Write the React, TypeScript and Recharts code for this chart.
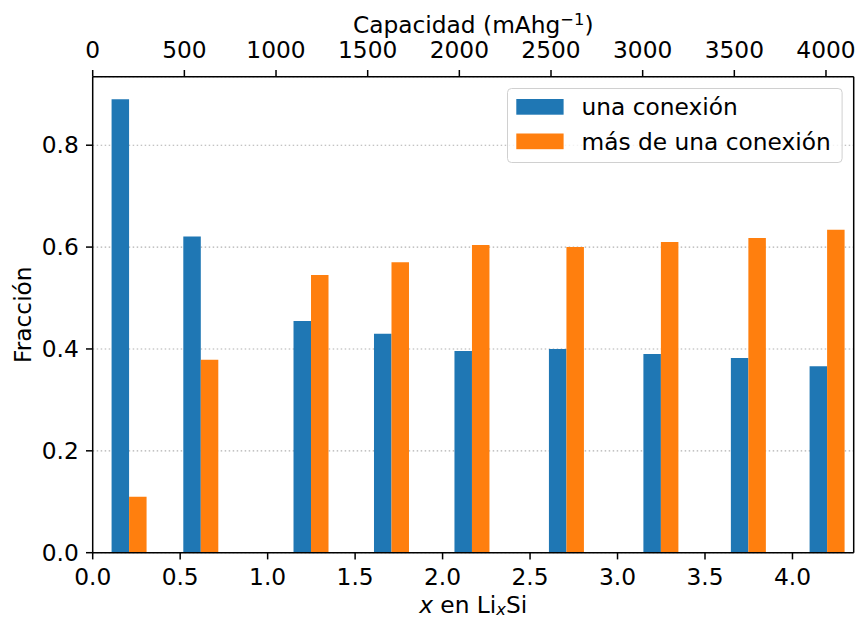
import React from 'react';
import {
  ComposedChart,
  Bar,
  XAxis,
  YAxis,
  CartesianGrid,
  Legend,
  ReferenceLine,
  Customized,
} from 'recharts';

// Li content x in LixSi for each sampled composition
const X_VALUES = [0.21, 0.62, 1.25, 1.71, 2.17, 2.71, 3.25, 3.75, 4.2];
// Fraction of Si atoms with a single connection
const SINGLE = [0.89, 0.621, 0.455, 0.43, 0.396, 0.4, 0.39, 0.382, 0.366];
// Fraction of Si atoms with more than one connection
const MULTI = [0.11, 0.379, 0.545, 0.57, 0.604, 0.6, 0.61, 0.618, 0.634];

const SERIES_NAMES = ['una conexión', 'más de una conexión'];
const COLORS = ['#1f77b4', '#ff7f0e'];

const X_TICKS = [0, 0.5, 1, 1.5, 2, 2.5, 3, 3.5, 4];
const CAP_TICKS = [0, 500, 1000, 1500, 2000, 2500, 3000, 3500, 4000];
const Y_TICKS = [0, 0.2, 0.4, 0.6, 0.8];

const X_MAX = 4.35;
const Y_MAX = 0.9345;
// Theoretical specific capacity per Li per Si (mAh/g)
const MAH_PER_X = 954.3;

const data = X_VALUES.map((x, i) => ({
  x,
  cap: x * MAH_PER_X,
  single: SINGLE[i],
  multi: MULTI[i],
}));

const FONT = 'DejaVu Sans';
const TICK_FS = 23.3;
const LABEL_FS = 23.3;
const LINE_W = 1.5;

const tickStyle = { fill: '#000', fontSize: TICK_FS, fontFamily: FONT };
const lineStyle = { stroke: '#000', strokeWidth: LINE_W };

const LegendBox = () => (
  <svg width={336} height={76} style={{ display: 'block', overflow: 'visible' }}>
    <rect
      x={0.5}
      y={0.5}
      width={334.6}
      height={74}
      rx={4}
      fill="rgba(255,255,255,0.8)"
      stroke="#d0d0d0"
      strokeWidth={1}
    />
    {SERIES_NAMES.map((name, i) => (
      <g key={name}>
        <rect x={9.3} y={11 + i * 34.5} width={47.3} height={15.7} fill={COLORS[i]} />
        <text
          x={74.5}
          y={27.4 + i * 34.4}
          fontFamily={FONT}
          fontSize={TICK_FS}
          fill="#000"
        >
          {name}
        </text>
      </g>
    ))}
  </svg>
);

const AxisTitles = () => (
  <g fontFamily={FONT} fontSize={LABEL_FS} fill="#000">
    <text x={473.2} y={33.3} textAnchor="middle">
      Capacidad (mAhg
      <tspan fontSize={LABEL_FS * 0.7} dy={-8.3}>
        −1
      </tspan>
      <tspan dy={8.3}>)</tspan>
    </text>
    <text x={473.2} y={612.5} textAnchor="middle">
      <tspan fontStyle="italic">x</tspan> en Li
      <tspan fontStyle="italic" fontSize={LABEL_FS * 0.7} dy={2}>
        x
      </tspan>
      <tspan dy={-2}>Si</tspan>
    </text>
    <text transform="translate(30.5,314.7) rotate(-90)" textAnchor="middle">
      Fracción
    </text>
  </g>
);

export default function App() {
  return (
    <div
      style={{
        position: 'absolute',
        left: 0,
        top: 0,
        width: 857,
        height: 617,
        background: '#fff',
      }}
    >
      <ComposedChart
        width={857}
        height={617}
        data={data}
        margin={{ top: 0, right: 3.3, bottom: 0, left: 0 }}
        barGap={0}
      >
        <CartesianGrid
          xAxisId="x"
          yAxisId="y"
          vertical={false}
          stroke="#b0b0b0"
          strokeWidth={1.1}
          strokeDasharray="1.5 2.5"
        />
        <Bar
          xAxisId="x"
          yAxisId="y"
          dataKey="single"
          name={SERIES_NAMES[0]}
          fill={COLORS[0]}
          barSize={17.5}
          isAnimationActive={false}
        />
        <Bar
          xAxisId="x"
          yAxisId="y"
          dataKey="multi"
          name={SERIES_NAMES[1]}
          fill={COLORS[1]}
          barSize={17.5}
          isAnimationActive={false}
        />
        <XAxis
          xAxisId="x"
          dataKey="x"
          type="number"
          orientation="bottom"
          domain={[0, X_MAX]}
          allowDataOverflow
          ticks={X_TICKS}
          interval={0}
          tickFormatter={(v: number) => v.toFixed(1)}
          height={64.3}
          tick={tickStyle}
          tickLine={lineStyle}
          axisLine={lineStyle}
          tickSize={6.7}
          tickMargin={9.3}
        />
        <XAxis
          xAxisId="cap"
          dataKey="cap"
          type="number"
          orientation="top"
          domain={[0, X_MAX * MAH_PER_X]}
          allowDataOverflow
          ticks={CAP_TICKS}
          interval={0}
          height={76.7}
          tick={tickStyle}
          tickLine={lineStyle}
          axisLine={lineStyle}
          tickSize={6.7}
          tickMargin={11.7}
        />
        <YAxis
          yAxisId="y"
          type="number"
          domain={[0, Y_MAX]}
          allowDataOverflow
          ticks={Y_TICKS}
          interval={0}
          tickFormatter={(v: number) => v.toFixed(1)}
          width={92.7}
          tick={tickStyle}
          tickLine={lineStyle}
          axisLine={lineStyle}
          tickSize={6.7}
          tickMargin={7.2}
        />
        <ReferenceLine
          xAxisId="x"
          yAxisId="y"
          x={X_MAX}
          stroke="#000"
          strokeWidth={LINE_W}
        />
        <Legend
          layout="vertical"
          align="center"
          verticalAlign="middle"
          wrapperStyle={{ left: 506.7, top: 88.3, width: 336, height: 76 }}
          content={() => <LegendBox />}
        />
        <Customized component={AxisTitles} />
      </ComposedChart>
    </div>
  );
}
